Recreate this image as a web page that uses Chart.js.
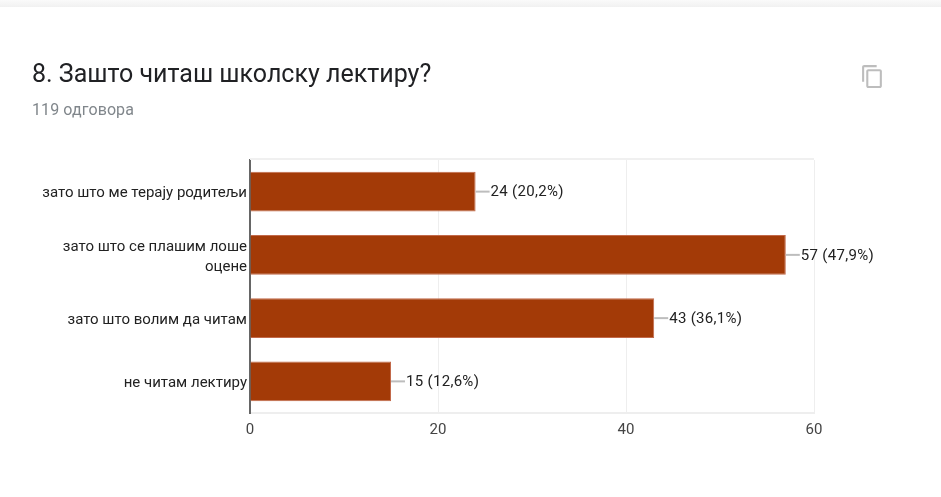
<!DOCTYPE html>
<html>
<head>
<meta charset="utf-8">
<script src="https://cdn.jsdelivr.net/npm/chart.js@4"></script>
<style>
    html, body { margin: 0; padding: 0; background: #fff; overflow: hidden; }
    body { width: 941px; height: 497px; position: relative; font-family: Roboto, sans-serif; }
    #topBar { position: absolute; left: 0; top: 0; width: 941px; height: 7px; background: linear-gradient(#fafafa, #f1f1f1); }
    #title { position: absolute; left: 32px; top: 58px; font-size: 25px; line-height: 32px; color: #202124; }
    #count { position: absolute; left: 32px; top: 99px; font-size: 16px; line-height: 22px; letter-spacing: 0.1px; color: #80868b; }
    #copy { position: absolute; left: 860px; top: 64px; }
    #chartOne { position: absolute; left: 0; top: 0; }
</style>
</head>
<body>
<div id="topBar"></div>
<canvas id="chartOne" width="941" height="497"></canvas>
<div id="title">8. Зашто читаш школску лектиру?</div>
<div id="count">119 одговора</div>
<svg id="copy" width="25" height="25" viewBox="0 0 24 24"><path fill="#bdbdbd" d="M16 1H4c-1.1 0-2 .9-2 2v14h2V3h12V1zm3 4H8c-1.1 0-2 .9-2 2v14c0 1.1.9 2 2 2h11c1.1 0 2-.9 2-2V7c0-1.1-.9-2-2-2zm0 16H8V7h11v14z"/></svg>
<script>
let categories = [
    'зато што ме терају родитељи',
    ['зато што се плашим лоше', 'оцене'],
    'зато што волим да читам',
    'не читам лектиру'
];
let answers = [24, 57, 43, 15];
let valueLabels = ['24 (20,2%)', '57 (47,9%)', '43 (36,1%)', '15 (12,6%)'];
let xTicks = [0, 20, 40, 60];

// okvir oko grafika i linije do natpisa
const barNotes = {
    id: 'barNotes',
    beforeDatasetsDraw(chart) {
        const a = chart.chartArea;
        const c = chart.ctx;
        c.save();
        c.strokeStyle = '#f0f0f0';
        c.lineWidth = 2;
        c.beginPath();
        c.moveTo(a.left, a.top - 1);
        c.lineTo(a.right, a.top - 1);
        c.stroke();
        c.restore();
    },
    afterDatasetsDraw(chart) {
        const c = chart.ctx;
        const bars = chart.getDatasetMeta(0).data;
        c.save();
        c.font = '15px Roboto';
        c.letterSpacing = '0.3px';
        c.textBaseline = 'middle';
        bars.forEach((bar, i) => {
            c.strokeStyle = '#bdbdbd';
            c.lineWidth = 2;
            c.beginPath();
            c.moveTo(bar.x, bar.y);
            c.lineTo(bar.x + 14, bar.y);
            c.stroke();
            c.fillStyle = '#222';
            c.fillText(valueLabels[i], bar.x + 15, bar.y + 1);
        });
        c.restore();
    }
};

new Chart(document.getElementById('chartOne').getContext('2d'), {
    type: 'bar',
    data: {
        labels: categories,
        datasets: [{
            data: answers,
            backgroundColor: '#a33a07',
            borderColor: '#c2694a',
            borderWidth: 1,
            barPercentage: 0.63,
            categoryPercentage: 1
        }]
    },
    options: {
        indexAxis: 'y',
        responsive: false,
        animation: false,
        layout: { padding: { left: 0, top: 160, right: 127, bottom: 0 } },
        plugins: { legend: { display: false }, title: { display: false }, tooltip: { enabled: false } },
        scales: {
            x: {
                min: 0,
                max: 60,
                afterBuildTicks(axis) { axis.ticks = xTicks.map(v => ({ value: v })); },
                afterFit(axis) { axis.height = 84; },
                grid: { color: '#eeeeee', lineWidth: 1, drawTicks: false },
                border: { color: '#eeeeee', width: 2 },
                ticks: { color: '#444', font: { family: 'Roboto', size: 15 }, padding: 8, maxRotation: 0 }
            },
            y: {
                afterFit(axis) { axis.width = 250; },
                grid: { display: false, drawTicks: false },
                border: { color: '#666666', width: 2 },
                ticks: { color: '#222', font: { family: 'Roboto', size: 15, lineHeight: 1.33 }, padding: 3, autoSkip: false, labelOffset: 2 }
            }
        }
    },
    plugins: [barNotes]
});
</script>
</body>
</html>
